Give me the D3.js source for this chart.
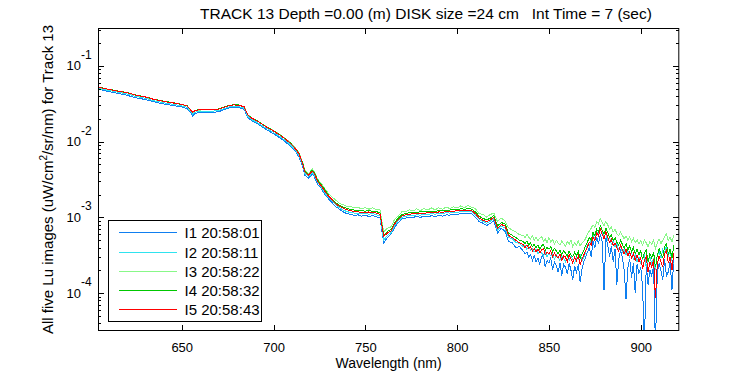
<!DOCTYPE html>
<html>
<head>
<meta charset="utf-8">
<script src="https://cdn.jsdelivr.net/npm/d3@7"></script>
<style>
  body { margin: 0; background: #fff; }
  svg { display: block; font-family: "Liberation Sans", Arial, sans-serif; }
</style>
</head>
<body>
<div id="chart"></div>
<script>
// Wavelength grid (nm), shared by all five images
const wavelengths = [
  605,610,615,620,625,630,635,640,645,650,653,655,656,657,659,662,666,670,675,678,
  681,684,686,688,691,694,697,700,703,706,709,712,714,716,717,719,720,721,722,724,
  726,728,
  730,732,734,736,738,740,742,744,746,748,750,752,754,756,758,760,762,764,766,768,
  770,772,774,776,778,780,782,784,786,788,790,792,794,796,798,800,802,804,806,808,
  810,812,814,816,818,820,822,824,826,828,830,832,834,
  836,837,838,839,840,841,842,843,844,845,846,847,848,849,850,851,852,853,854,855,
  856,857,858,859,860,861,862,863,864,865,866,867,868,869,870,871,872,873,874,875,
  876,877,878,879,880,881,882,883,884,885,886,887,888,889,890,891,892,893,894,895,
  896,897,898,899,900,901,902,903,904,905,906,907,908,909,910,911,912,913,914,915,
  916,917,918
];

// Lu values (uW/cm^2/sr/nm)
const i1 = [
  .049,.046,.0435,.041,.038,.036,.0335,.0315,.030,.0288,
  .0272,.0238,.0218,.0232,.0242,.0242,.0242,.0248,.0275,.0285,
  .0283,.0268,.0208,.0190,.0174,.0155,.0140,.0127,.0114,.0101,
  .0088,.0074,.0062,.0046,.0036,.0033,.0035,.0037,.0035,.0027,
  .0024,.0020,
  .00175,.00155,.00138,.00128,.00118,.00112,.0011,.00106,.00108,.00104,
  .00106,.00103,.00105,.00102,.00098,.00046,.00054,.0006,.00074,.00086,
  .00095,.00098,.00101,.001,.00103,.001,.00104,.00102,.00105,.00103,
  .00106,.00104,.00108,.00107,.0011,.00109,.00112,.00111,.00114,.00112,
  .001,.00088,.00084,.00078,.00083,.0009,.00062,.00072,.00066,.00048,
  .00046,.0004,.00041,
  .00036,.00033,.00035,.0003,.00032,.00027,.00031,.00026,.00029,.00024,
  .0003,.00032,.00022,.00027,.00025,.00029,.0002,.00026,.00023,.00019,
  .00025,.00017,.00024,.00022,.00018,.00025,.0002,.00015,.00023,.00019,
  .00024,.00014,.00021,.00026,.0003,.00035,.0004,.0003,.00048,.0004,
  .00055,.00045,.0006,.00048,.00011,.00054,.00044,.0003,.00042,.00026,
  .00038,.00013,.00028,.00036,.0003,.0002,.000083,.00022,.00028,.00016,
  .00025,.0001,.00024,.00018,.00022,.00012,.00002,.00024,.00013,.0002,
  .00017,.00023,.00002,.00018,.00025,.0002,.00015,.00028,.00017,.00019,
  .00026,.00011,.00028
];
const i2 = [
  .050,.0475,.045,.0428,.0395,.0375,.0345,.0326,.0311,.0297,
  .0283,.0249,.0230,.0244,.0251,.0250,.0251,.0257,.0284,.0293,
  .0291,.0276,.0215,.0196,.0180,.0161,.0146,.0132,.0119,.0105,
  .0092,.0077,.0065,.0048,.0038,.0035,.0036,.0039,.0037,.0029,
  .0025,.0021,
  .00182,.00162,.00145,.00134,.00125,.00119,.00116,.00114,.00113,.00111,
  .00112,.0011,.00112,.00108,.00104,.0005,.00058,.00063,.00078,.0009,
  .001,.00103,.00106,.00106,.00108,.00107,.0011,.00109,.00112,.0011,
  .00113,.00112,.00115,.00114,.00117,.00116,.00119,.00118,.00121,.00118,
  .00107,.00094,.00089,.00084,.00089,.00096,.00068,.00077,.00073,.00054,
  .00052,.00047,.00045,
  .00041,.00043,.00038,.00041,.00037,.00039,.00035,.00038,.00033,.00036,
  .00034,.00031,.00035,.0003,.00034,.00031,.00033,.00028,.00032,.0003,
  .00027,.00031,.00029,.00026,.0003,.00027,.00031,.00028,.00025,.0003,
  .00028,.00032,.00027,.0003,.00035,.00044,.00041,.00052,.00058,.00053,
  .00065,.0006,.00068,.00064,.00057,.0006,.00051,.00055,.00044,.00049,
  .00041,.00045,.00037,.00041,.00035,.00038,.00032,.00036,.0003,.00034,
  .00028,.00032,.00026,.0003,.00025,.00029,.00032,.00022,.00027,.0003,
  .00024,.00029,.0002,.00032,.00035,.00029,.00038,.00034,.00042,.00031,
  .00036,.00027,.00024
];
const i3 = [
  .0515,.0488,.0462,.0442,.0408,.0388,.0358,.0339,.0324,.0309,
  .0294,.0259,.0240,.0254,.0261,.0262,.0262,.0268,.0296,.0306,
  .0305,.0290,.0227,.0207,.0190,.0170,.0154,.0140,.0126,.0112,
  .0098,.0082,.0070,.0052,.0042,.0038,.0040,.0044,.0041,.0032,
  .0028,.0024,
  .00205,.00185,.00168,.00152,.00148,.00138,.0014,.00133,.00136,.00129,
  .00135,.00128,.00134,.00127,.00126,.00064,.00072,.00075,.00095,.00104,
  .0012,.00118,.00126,.00121,.0013,.00123,.00131,.00125,.00133,.00126,
  .00134,.00128,.00137,.00131,.00138,.00133,.00142,.00135,.00143,.00136,
  .0013,.00112,.0011,.00101,.00109,.00114,.00088,.00098,.0009,.00073,
  .00068,.00064,.00059,
  .00058,.00054,.0006,.00055,.00052,.00057,.0005,.00055,.00049,.00053,
  .00056,.00048,.00052,.00046,.00054,.00047,.00051,.00044,.0005,.00046,
  .00043,.00049,.00045,.00042,.00048,.00044,.0005,.00041,.00046,.00043,
  .00049,.00042,.00046,.00048,.00053,.0006,.00066,.00072,.0008,.00074,
  .00088,.00082,.00097,.00086,.00078,.00088,.0008,.0007,.00075,.00064,
  .0007,.00061,.00057,.00064,.00058,.00052,.00057,.0005,.00055,.00048,
  .00053,.00046,.00051,.00045,.00049,.00043,.0005,.00046,.00041,.00048,
  .00044,.0005,.00039,.00046,.00052,.00045,.0005,.00056,.00061,.00049,
  .00055,.00047,.00058
];
const i4 = [
  .0522,.0492,.0468,.0446,.0412,.0391,.0362,.0342,.0327,.0311,
  .0296,.0262,.0243,.0256,.0264,.0265,.0263,.0270,.0297,.0307,
  .0305,.0289,.0226,.0206,.0189,.0169,.0153,.0139,.0125,.0111,
  .0097,.0081,.0069,.0051,.0041,.0037,.0039,.0042,.0040,.0031,
  .0027,.0023,
  .00195,.00174,.00155,.00145,.00137,.00131,.00127,.00125,.00123,.00122,
  .00121,.00123,.0012,.00119,.00115,.00058,.00065,.00069,.00086,.00098,
  .00109,.00113,.00115,.00117,.00116,.00119,.00118,.0012,.00121,.00119,
  .00123,.00122,.00124,.00125,.00127,.00127,.0013,.00128,.00131,.00128,
  .00118,.00104,.00097,.00093,.00097,.00106,.00077,.00085,.00083,.00062,
  .00058,.00054,.0005,
  .00048,.00045,.00049,.00043,.00046,.00041,.00044,.0004,.00043,.00038,
  .00042,.00044,.00037,.0004,.00038,.00041,.00035,.00039,.00036,.00033,
  .00037,.00032,.00036,.00034,.00031,.00036,.00032,.0003,.00035,.00031,
  .00036,.00029,.00033,.00037,.00042,.00048,.00054,.0005,.00063,.00057,
  .0007,.00064,.00078,.00068,.00061,.00072,.00063,.00055,.00059,.00049,
  .00054,.00047,.00043,.0005,.00044,.00039,.00045,.00037,.00042,.00035,
  .0004,.00033,.00038,.00032,.00036,.00028,.00034,.00037,.00026,.00033,
  .00029,.00035,.00022,.00031,.00039,.00033,.0003,.00041,.00045,.00033,
  .00038,.00029,.00043
];
const i5 = [
  .052,.049,.0465,.0445,.041,.039,.036,.034,.0325,.031,
  .0295,.026,.0242,.0255,.0262,.0262,.0262,.0268,.0295,.0305,
  .0303,.0288,.0225,.0205,.0188,.0168,.0152,.0138,.0124,.0110,
  .0096,.0080,.0068,.0050,.0040,.0036,.0038,.0041,.0039,.0030,
  .0026,.0022,
  .0019,.0017,.0015,.0014,.00132,.00126,.00122,.0012,.00118,.00117,
  .00116,.00118,.00115,.00114,.0011,.00056,.00062,.00066,.00082,.00094,
  .00104,.00108,.0011,.00112,.00111,.00114,.00113,.00115,.00116,.00114,
  .00118,.00117,.00119,.0012,.00121,.00122,.00124,.00123,.00125,.00122,
  .00112,.00098,.00092,.00088,.00092,.001,.00072,.0008,.00078,.00058,
  .00054,.0005,.00046,
  .00044,.0004,.00043,.00039,.00041,.00036,.00039,.00035,.00038,.00034,
  .00037,.00039,.00032,.00035,.00033,.00036,.0003,.00034,.00031,.00029,
  .00033,.00027,.00031,.0003,.00026,.00032,.00028,.00025,.0003,.00027,
  .00031,.00024,.00028,.00032,.00036,.00041,.00047,.00043,.00055,.0005,
  .00062,.00057,.0007,.0006,.00052,.00064,.00055,.00047,.00051,.00042,
  .00046,.0004,.00036,.00043,.00037,.00033,.00038,.00031,.00035,.00029,
  .00033,.00027,.00032,.00026,.00029,.00021,.00027,.0003,.00019,.00026,
  .00022,.00028,.000085,.00024,.00031,.00026,.00022,.00033,.00037,.00025,
  .0003,.0002,.00034
];

const seriesNames = ["I1 20:58:01", "I2 20:58:11", "I3 20:58:22", "I4 20:58:32", "I5 20:58:43"];
const seriesColors = ["#0f7ff0", "#2fe3ef", "#88f888", "#00c800", "#ff0000"];
const xTicks = [650, 700, 750, 800, 850, 900];
const yDecades = [-4, -3, -2, -1];

let width = 750,
    height = 375,
    margin = ({ top: 28, right: 70.7, bottom: 44, left: 98 });

const svg = d3.select("#chart")
  .append("svg")
  .attr("width", width)
  .attr("height", height)
  .attr("viewBox", [0, 0, width, height]);

const x = d3.scaleLinear()
  .domain([604.4, 921])
  .range([margin.left, width - margin.right]);

const y = d3.scaleLog()
  .domain([Math.pow(10, -4.5), Math.pow(10, -0.5)])
  .range([height - margin.bottom, margin.top]);

// minor log ticks 2..9 in each decade that falls inside the axis
const minorTicks = [];
[-5, -4, -3, -2, -1].forEach(d => {
  for (let k = 2; k <= 9; k++) {
    const v = k * Math.pow(10, d);
    if (v > y.domain()[0] && v < y.domain()[1]) minorTicks.push(v);
  }
});

const series = [i1, i2, i3, i4, i5].map((vals, i) => ({
  name: seriesNames[i],
  color: seriesColors[i],
  points: wavelengths.map((w, j) => ({ w: w, v: vals[j] }))
}));

// clip the traces to the plot box
svg.append("clipPath").attr("id", "plot-clip")
  .append("rect")
  .attr("x", margin.left)
  .attr("y", margin.top)
  .attr("width", width - margin.left - margin.right)
  .attr("height", height - margin.top - margin.bottom);

const line = d3.line()
  .x(d => x(d.w))
  .y(d => y(d.v));

svg.append("g")
  .attr("clip-path", "url(#plot-clip)")
  .selectAll("path")
  .data(series)
  .join("path")
  .attr("fill", "none")
  .attr("stroke", d => d.color)
  .attr("stroke-width", 1)
  .attr("shape-rendering", "crispEdges")
  .attr("d", d => line(d.points));

// axes, ticks pointing inward like the original
function styleAxis(g) {
  g.select(".domain").remove();
  g.selectAll("line").attr("stroke", "#000").attr("shape-rendering", "crispEdges");
  g.selectAll("text").attr("fill", "#000").attr("font-size", 13)
    .attr("font-family", "Liberation Sans, Arial, sans-serif");
}

svg.append("g")
  .attr("transform", `translate(0,${height - margin.bottom})`)
  .call(d3.axisBottom(x).tickValues(xTicks).tickSize(-6).tickSizeOuter(0).tickPadding(12))
  .call(styleAxis);

svg.append("g")
  .attr("transform", `translate(0,${margin.top})`)
  .call(d3.axisTop(x).tickValues(xTicks).tickSize(-6).tickSizeOuter(0).tickFormat(""))
  .call(styleAxis);

const decadeValues = yDecades.map(d => Math.pow(10, d));
svg.append("g")
  .attr("transform", `translate(${margin.left},0)`)
  .call(d3.axisLeft(y).tickValues(decadeValues).tickSize(-6).tickSizeOuter(0).tickFormat(""))
  .call(styleAxis);
svg.append("g")
  .attr("transform", `translate(${margin.left},0)`)
  .call(d3.axisLeft(y).tickValues(minorTicks).tickSize(-3).tickSizeOuter(0).tickFormat(""))
  .call(styleAxis);
svg.append("g")
  .attr("transform", `translate(${width - margin.right},0)`)
  .call(d3.axisRight(y).tickValues(decadeValues).tickSize(-6).tickSizeOuter(0).tickFormat(""))
  .call(styleAxis);
svg.append("g")
  .attr("transform", `translate(${width - margin.right},0)`)
  .call(d3.axisRight(y).tickValues(minorTicks).tickSize(-3).tickSizeOuter(0).tickFormat(""))
  .call(styleAxis);

// y tick labels as 10 with superscript exponent
const yLabels = svg.append("g").attr("fill", "#000");
yDecades.forEach(d => {
  const ty = y(Math.pow(10, d));
  yLabels.append("text")
    .attr("x", 81).attr("y", ty + 4.5)
    .attr("text-anchor", "end")
    .attr("font-size", 13)
    .text("10");
  yLabels.append("text")
    .attr("x", 81).attr("y", ty - 7)
    .attr("font-size", 12)
    .text(d);
});

// plot box
svg.append("rect")
  .attr("x", margin.left + 0.5)
  .attr("y", margin.top + 0.5)
  .attr("width", width - margin.left - margin.right - 1)
  .attr("height", height - margin.top - margin.bottom - 1)
  .attr("fill", "none")
  .attr("stroke", "#000");

// title and axis labels
svg.append("text")
  .attr("x", 426).attr("y", 19)
  .attr("text-anchor", "middle")
  .attr("font-size", 15.5)
  .style("white-space", "pre")
  .text("TRACK 13 Depth =0.00 (m) DISK size =24 cm   Int Time = 7 (sec)");

svg.append("text")
  .attr("x", (margin.left + width - margin.right) / 2).attr("y", 368)
  .attr("text-anchor", "middle")
  .attr("font-size", 14)
  .text("Wavelength (nm)");

const yTitle = svg.append("text")
  .attr("transform", `translate(53,${(margin.top + height - margin.bottom) / 2}) rotate(-90)`)
  .attr("text-anchor", "middle")
  .attr("font-size", 15);
yTitle.append("tspan").text("All five Lu images (uW/cm");
yTitle.append("tspan").attr("font-size", 10).attr("dy", -6).text("2");
yTitle.append("tspan").attr("dy", 6).text("/sr/nm) for Track 13");

// legend
const legend = svg.append("g");
legend.append("rect")
  .attr("x", 108.5).attr("y", 220.5)
  .attr("width", 153).attr("height", 101)
  .attr("fill", "#fff")
  .attr("stroke", "#000")
  .attr("shape-rendering", "crispEdges");

const rows = legend.selectAll("g.row")
  .data(series)
  .join("g")
  .attr("class", "row")
  .attr("transform", (d, i) => `translate(0,${Math.round(232.3 + i * 19.25)})`);
rows.append("line")
  .attr("x1", 119).attr("x2", 177)
  .attr("y1", 0.5).attr("y2", 0.5)
  .attr("stroke", d => d.color)
  .attr("stroke-width", 1.2);
rows.append("text")
  .attr("x", 184.5).attr("y", 5.8)
  .attr("font-size", 15)
  .text(d => d.name);
</script>
</body>
</html>
